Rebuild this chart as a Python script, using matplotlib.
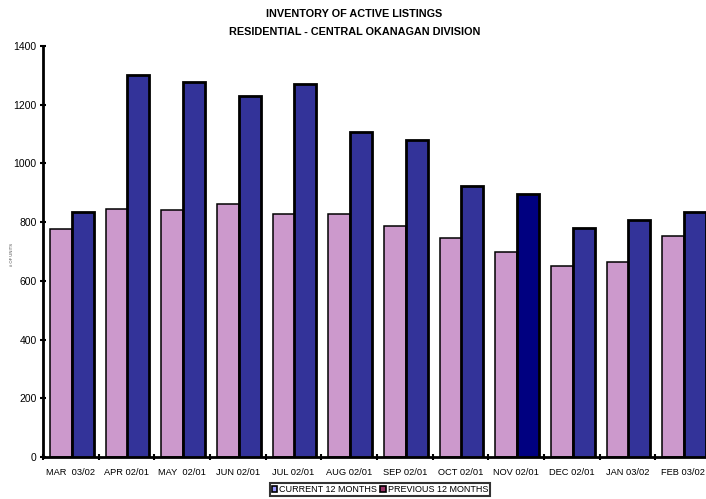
import numpy as np
import matplotlib
matplotlib.use("Agg")
import matplotlib.pyplot as plt
from matplotlib.patches import Patch

plt.rcParams['font.family'] = ['Liberation Sans', 'DejaVu Sans']

# data
months = ["MAR  03/02", "APR 02/01", "MAY  02/01", "JUN 02/01", "JUL 02/01", "AUG 02/01",
          "SEP 02/01", "OCT 02/01", "NOV 02/01", "DEC 02/01", "JAN 03/02", "FEB 03/02"]
current = [778, 846, 840, 861, 829, 829, 788, 745, 697, 652, 663, 754]
previous = [836, 1302, 1276, 1229, 1271, 1108, 1079, 924, 897, 781, 806, 836]
highlight = "NOV 02/01"

pink = "#CC99CC"
blue = "#333399"
navy = "#000080"

fig = plt.figure(figsize=(7.06, 4.99), dpi=100)
ax = fig.add_axes([0.0609, 0.0842, 0.946, 0.8236])

x = np.arange(len(months))
w = 0.395
ax.bar(x - 0.175, current, width=w, color=pink, edgecolor="black", linewidth=1.1, zorder=2)
prev_cols = [navy if m == highlight else blue for m in months]
ax.bar(x + 0.215, previous, width=w, color=prev_cols, edgecolor="black", linewidth=2, zorder=3)

ax.set_xlim(-0.5, len(months) - 0.5)
ax.set_ylim(0, 1400)
ax.set_yticks(range(0, 1401, 200))
ax.set_xticks(x)
ax.set_xticklabels(months, fontsize=6.7)
ax.set_xticks(np.arange(-0.5, len(months), 1), minor=True)
ax.tick_params(axis="x", which="major", length=0, pad=8)
ax.tick_params(axis="x", which="minor", length=5, width=1.5, direction="inout")
ax.tick_params(axis="y", labelsize=7.5, length=5, width=1.5, direction="inout", pad=2)

for s in ["top", "right"]:
    ax.spines[s].set_visible(False)
for s in ["left", "bottom"]:
    ax.spines[s].set_linewidth(2)

fig.text(0.017, 0.489, "# OF UNITS", rotation=90, fontsize=3, ha="center", va="center", color="#444444")

fig.text(0.502, 0.972, "INVENTORY OF ACTIVE LISTINGS", fontsize=7.8, fontweight="bold", ha="center", va="center")
fig.text(0.502, 0.936, "RESIDENTIAL - CENTRAL OKANAGAN DIVISION", fontsize=7.8, fontweight="bold", ha="center", va="center")

handles = [Patch(facecolor="#9999FF", edgecolor="black", linewidth=1.2),
           Patch(facecolor="#993366", edgecolor="black", linewidth=1.2)]
leg = fig.legend(handles, ["CURRENT 12 MONTHS", "PREVIOUS 12 MONTHS"], loc="upper center",
                 bbox_to_anchor=(0.538, 0.032), ncol=2, fontsize=6.5, frameon=True, fancybox=False,
                 handlelength=0.6, handleheight=0.6, handletextpad=0.2, columnspacing=0.4,
                 borderpad=0.2, borderaxespad=0)
leg.get_frame().set_edgecolor("black")
leg.get_frame().set_linewidth(1.5)

fig.savefig("out.png", dpi=100)
